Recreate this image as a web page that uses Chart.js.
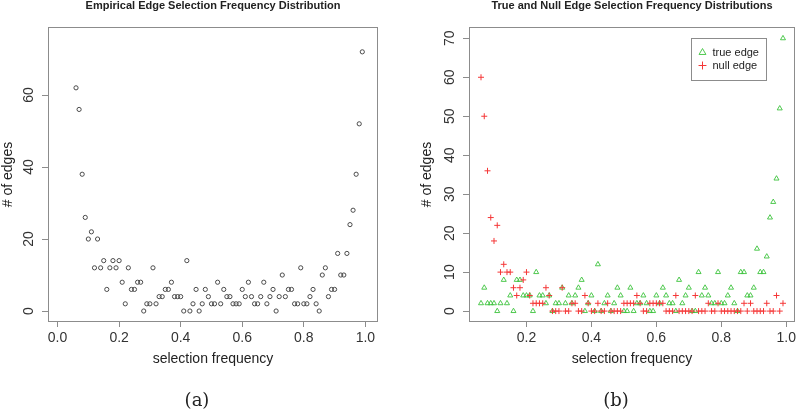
<!DOCTYPE html>
<html>
<head>
<meta charset="utf-8">
<script src="https://cdn.jsdelivr.net/npm/chart.js@4.4.0/dist/chart.umd.min.js"></script>
<style>
  html, body { margin: 0; padding: 0; background: #fff; }
  body { width: 800px; height: 411px; overflow: hidden; position: relative; }
  .panel { position: absolute; top: 0; width: 400px; height: 411px; }
  .caption { position: absolute; top: 389px; line-height: 22px; font-size: 18px; font-family: "DejaVu Serif", serif; color: #222; transform: translateX(-50%); }
</style>
</head>
<body>
<div class="panel" style="left:0"><canvas id="empirical-chart"></canvas></div>
<div class="panel" style="left:400px"><canvas id="true-null-chart"></canvas></div>
<div class="caption" style="left:197px">(a)</div>
<div class="caption" style="left:616px">(b)</div>
<script>
// selection frequency of each edge bucket
const freq = [
  0.06, 0.07, 0.08, 0.09, 0.10, 0.11, 0.12, 0.13, 0.14, 0.15,
  0.16, 0.17, 0.18, 0.19, 0.20, 0.21, 0.22, 0.23, 0.24, 0.25,
  0.26, 0.27, 0.28, 0.29, 0.30, 0.31, 0.32, 0.33, 0.34, 0.35,
  0.36, 0.37, 0.38, 0.39, 0.40, 0.41, 0.42, 0.43, 0.44, 0.45,
  0.46, 0.47, 0.48, 0.49, 0.50, 0.51, 0.52, 0.53, 0.54, 0.55,
  0.56, 0.57, 0.58, 0.59, 0.60, 0.61, 0.62, 0.63, 0.64, 0.65,
  0.66, 0.67, 0.68, 0.69, 0.70, 0.71, 0.72, 0.73, 0.74, 0.75,
  0.76, 0.77, 0.78, 0.79, 0.80, 0.81, 0.82, 0.83, 0.84, 0.85,
  0.86, 0.87, 0.88, 0.89, 0.90, 0.91, 0.92, 0.93, 0.94, 0.95,
  0.96, 0.97, 0.98, 0.99
]
// (a) all edges
const edgeCount = [
  62, 56, 38, 26, 20, 22, 12, 20, 12, 14,
  6, 12, 14, 12, 14, 8, 2, 12, 6, 6,
  8, 8, 0, 2, 2, 12, 2, 4, 4, 6,
  6, 8, 4, 4, 4, 0, 14, 0, 2, 6,
  0, 2, 6, 4, 2, 2, 8, 2, 6, 4,
  4, 2, 2, 2, 6, 4, 8, 4, 2, 2,
  4, 8, 2, 4, 6, 0, 4, 10, 4, 6,
  6, 2, 2, 12, 2, 2, 4, 6, 2, 0,
  10, 12, 4, 6, 6, 16, 10, 10, 16, 24,
  28, 38, 52, 72
]
// (b) split into true and null edges
const trueEdgeCount = [
  2, 6, 2, 2, 2, 0, 2, 8, 2, 4,
  0, 8, 8, 4, 4, 4, 0, 10, 4, 4,
  2, 4, 0, 2, 2, 6, 2, 4, 2, 4,
  6, 8, 0, 2, 4, 0, 12, 0, 2, 4,
  0, 2, 6, 4, 0, 0, 6, 0, 2, 2,
  4, 2, 0, 0, 4, 2, 6, 4, 2, 2,
  0, 8, 2, 4, 6, 0, 0, 10, 4, 6,
  4, 2, 2, 10, 2, 2, 4, 6, 2, 0,
  10, 10, 4, 4, 6, 16, 10, 10, 14, 24,
  28, 34, 52, 70
]
const nullEdgeCount = [
  60, 50, 36, 24, 18, 22, 10, 12, 10, 10,
  6, 4, 6, 8, 10, 4, 2, 2, 2, 2,
  6, 4, 0, 0, 0, 6, 0, 0, 2, 2,
  0, 0, 4, 2, 0, 0, 2, 0, 0, 2,
  0, 0, 0, 0, 2, 2, 2, 2, 4, 2,
  0, 0, 2, 2, 2, 2, 2, 0, 0, 0,
  4, 0, 0, 0, 0, 0, 4, 0, 0, 0,
  2, 0, 0, 2, 0, 0, 0, 0, 0, 0,
  0, 2, 0, 2, 0, 0, 0, 0, 2, 0,
  0, 4, 0, 2
]

const empiricalXTicks = [0, 0.2, 0.4, 0.6, 0.8, 1.0]
const empiricalYTicks = [0, 20, 40, 60]
const splitXTicks = [0.2, 0.4, 0.6, 0.8, 1.0]
const splitYTicks = [0, 10, 20, 30, 40, 50, 60, 70]

const FONT = '"Liberation Sans", Arial, Helvetica, sans-serif'
const FRAME = '#8c8c8c'

const points = (xs, ys) => xs.map((x, i) => ({ x, y: ys[i] }))

// R draws a full box round the plot and writes y tick labels sideways
const rFrame = {
  id: 'rFrame',
  afterDraw(chart, args, opts) {
    const { ctx, chartArea: a } = chart
    const yScale = chart.scales.y
    ctx.save()
    ctx.strokeStyle = FRAME
    ctx.lineWidth = 1
    ctx.strokeRect(Math.round(a.left) + 0.5, Math.round(a.top) + 0.5,
      Math.round(a.right - a.left) - 1, Math.round(a.bottom - a.top) - 1)
    ctx.fillStyle = '#333'
    ctx.font = `14px ${FONT}`
    ctx.textAlign = 'center'
    ctx.textBaseline = 'middle'
    yScale.ticks.forEach(t => {
      ctx.save()
      ctx.translate(opts.labelX, yScale.getPixelForValue(t.value))
      ctx.rotate(-Math.PI / 2)
      ctx.fillText(String(t.value), 0, 0)
      ctx.restore()
    })
    ctx.restore()
  }
}

// put the legend inside the plot, top right, with a frame like R's legend()
const legendPlace = {
  id: 'legendPlace',
  afterLayout(chart, args, opts) {
    const lg = chart.legend
    if (!lg || !opts.at) return
    lg.left = opts.at[0]
    lg.top = opts.at[1]
    lg.right = opts.at[0] + opts.size[0]
    lg.bottom = opts.at[1] + opts.size[1]
  },
  afterDraw(chart, args, opts) {
    if (!opts.at) return
    const { ctx } = chart
    ctx.save()
    ctx.strokeStyle = FRAME
    ctx.lineWidth = 1
    ctx.strokeRect(opts.at[0] - 4.5, opts.at[1] - 6.5, opts.size[0], opts.size[1])
    ctx.restore()
  }
}

function makeOptions({ title, xMin, xMax, yMin, yMax, xTicks, yTicks, yWidth, yTitlePad, labelX, padRight, legend }) {
  return {
    responsive: true,
    maintainAspectRatio: false,
    animation: false,
    layout: { padding: { left: 0, right: padRight, top: 0, bottom: 22 } },
    scales: {
      x: {
        type: 'linear',
        min: xMin,
        max: xMax,
        afterBuildTicks: s => { s.ticks = xTicks.map(value => ({ value })) },
        afterFit: s => { s.height = 67; s.paddingLeft = 0; s.paddingRight = 0 },
        grid: { display: true, drawOnChartArea: false, drawTicks: true, tickLength: 5, color: FRAME },
        border: { display: false },
        ticks: {
          autoSkip: false, maxRotation: 0, padding: 3, color: '#333',
          font: { size: 14, family: FONT },
          callback: v => v.toFixed(1)
        },
        title: {
          display: true, text: 'selection frequency', color: '#222',
          font: { size: 14, family: FONT }, padding: { top: 0, bottom: 21 }
        }
      },
      y: {
        type: 'linear',
        min: yMin,
        max: yMax,
        afterBuildTicks: s => { s.ticks = yTicks.map(value => ({ value })) },
        afterFit: s => { s.width = yWidth; s.paddingTop = 0; s.paddingBottom = 0 },
        grid: { display: true, drawOnChartArea: false, drawTicks: true, tickLength: 6, color: FRAME },
        border: { display: false },
        ticks: { display: false },
        title: {
          display: true, text: '# of edges', color: '#222',
          font: { size: 14, family: FONT }, padding: { top: yTitlePad, bottom: 0 }
        }
      }
    },
    plugins: {
      title: {
        display: true, text: title, fullSize: false, color: '#222',
        font: { size: 11, weight: 'bold', family: FONT, lineHeight: 1 },
        padding: { top: 0, bottom: 16 }
      },
      legend: legend || { display: false },
      tooltip: { enabled: false },
      rFrame: { labelX },
      legendPlace: legend ? { at: [296, 45], size: [75, 42] } : {}
    }
  }
}

new Chart(document.querySelector('#empirical-chart'), {
  type: 'scatter',
  data: {
    datasets: [{
      label: 'edges',
      data: points(freq, edgeCount),
      pointStyle: 'circle',
      pointRadius: 2.1,
      borderWidth: 1,
      borderColor: '#4a4a4a',
      backgroundColor: 'rgba(0,0,0,0)'
    }]
  },
  options: makeOptions({
    title: 'Empirical Edge Selection Frequency Distribution',
    xMin: -0.031, xMax: 1.041, yMin: -3.05, yMax: 78.9,
    xTicks: empiricalXTicks, yTicks: empiricalYTicks,
    yWidth: 48, yTitlePad: 0, labelX: 29, padRight: 22
  }),
  plugins: [rFrame, legendPlace]
})

new Chart(document.querySelector('#true-null-chart'), {
  type: 'scatter',
  data: {
    datasets: [{
      label: 'true edge',
      data: points(freq, trueEdgeCount),
      order: 1,
      pointStyle: 'triangle',
      pointRadius: 2.9,
      borderWidth: 0.9,
      borderColor: 'rgb(60,195,60)',
      backgroundColor: 'rgba(0,0,0,0)'
    }, {
      label: 'null edge',
      data: points(freq, nullEdgeCount),
      order: 0,
      pointStyle: 'cross',
      pointRadius: 3,
      borderWidth: 1,
      borderColor: 'rgb(245,55,55)',
      backgroundColor: 'rgba(0,0,0,0)'
    }]
  },
  options: makeOptions({
    title: 'True and Null Edge Selection Frequency Distributions',
    xMin: 0.023, xMax: 1.027, yMin: -2.8, yMax: 72.9,
    xTicks: splitXTicks, yTicks: splitYTicks,
    yWidth: 69, yTitlePad: 18.6, labelX: 50, padRight: 1,
    legend: {
      display: true,
      position: 'chartArea',
      align: 'start',
      labels: {
        usePointStyle: true, boxWidth: 9, boxHeight: 5.6, padding: 2,
        color: '#222', font: { size: 11, lineHeight: 1.1, family: FONT },
        sort: (a, b) => a.datasetIndex - b.datasetIndex
      }
    }
  }),
  plugins: [rFrame, legendPlace]
})
</script>
</body>
</html>
